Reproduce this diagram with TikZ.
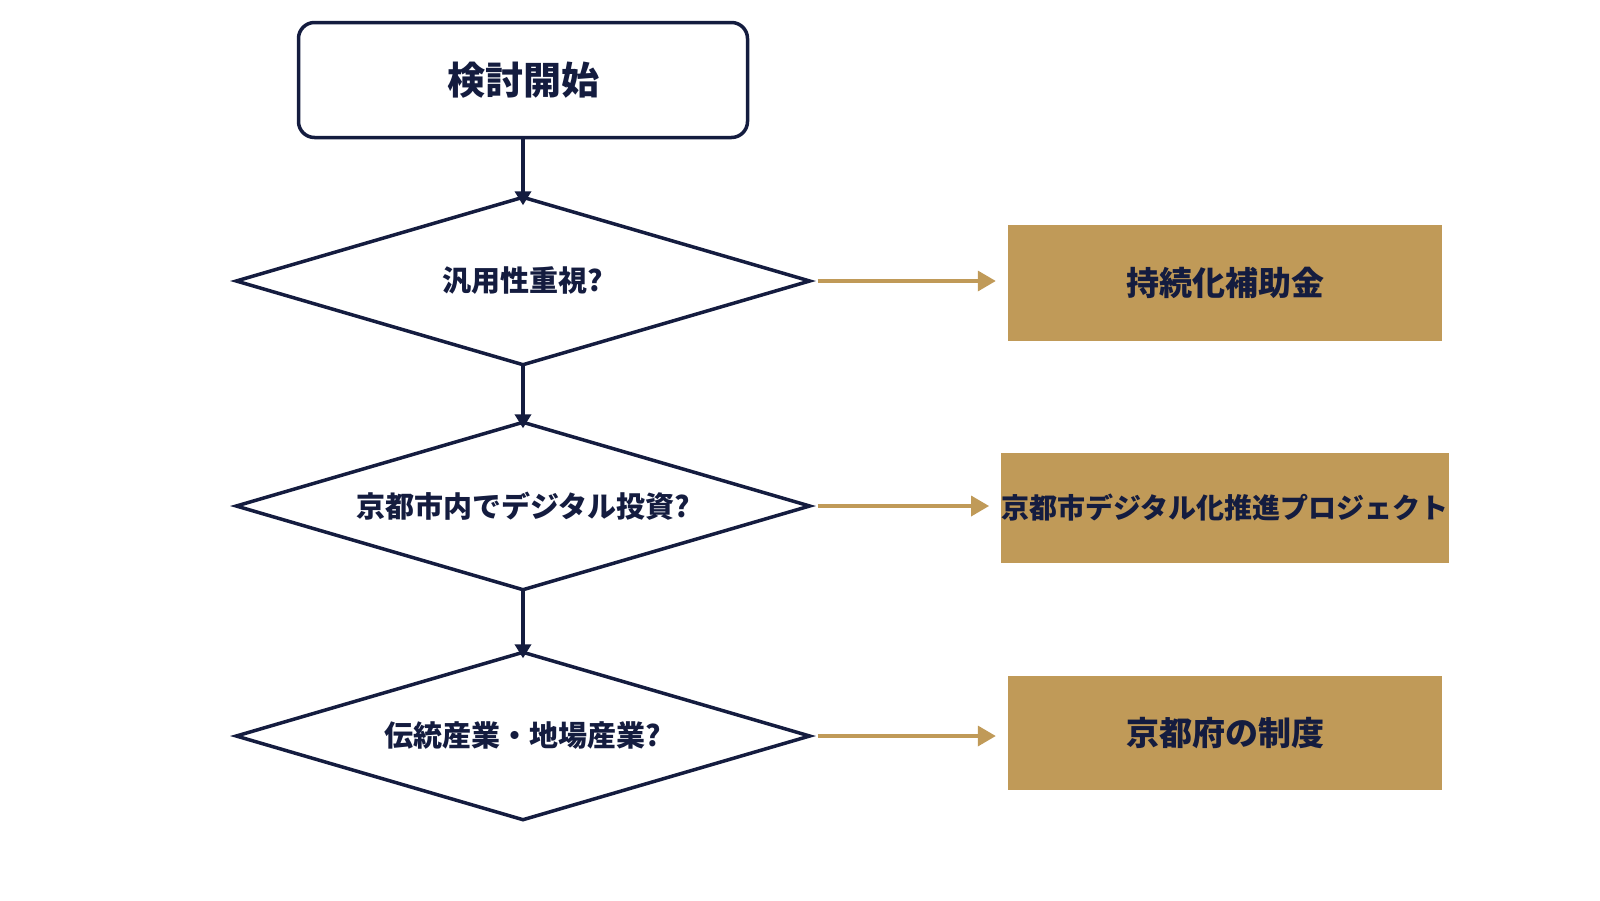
\documentclass[tikz,border=0pt]{standalone}
\usepackage{fontspec}
\newfontfamily\cjk{Noto Sans CJK JP}[BoldFont={Noto Sans CJK JP Black}]
\usetikzlibrary{shapes.geometric,arrows.meta}
\definecolor{navy}{HTML}{141C3F}
\definecolor{gold}{HTML}{C09A58}
\begin{document}
\begin{tikzpicture}[x=1pt,y=-1pt,
  dia/.style={rectangle,minimum width=573pt,minimum height=167pt,inner sep=0pt,font=\cjk\bfseries\fontsize{29}{32}\selectfont,text=navy},
  dline/.style={draw=navy,line width=3.5pt,line join=miter},
  res/.style={fill=gold,minimum width=434pt,inner sep=0pt,font=\cjk\bfseries\fontsize{33}{36}\selectfont,text=navy},
  na/.style={-{Triangle[length=14pt,width=16pt]},draw=navy,line width=3.5pt},
  ga/.style={-{Triangle[length=18pt,width=20pt]},draw=gold,line width=3.5pt}]
\useasboundingbox (0,0) rectangle (1600,900);
\node[draw=navy,line width=3.5pt,rounded corners=16pt,minimum width=449pt,minimum height=115pt,font=\cjk\bfseries\fontsize{38}{42}\selectfont,text=navy] (s) at (523,80) {検討開始};
\node[dia] (d1) at (523,281) {汎用性重視?};
\node[dia] (d2) at (523,506) {京都市内でデジタル投資?};
\node[dia] (d3) at (523,736) {伝統産業・地場産業?};
\foreach \d in {d1,d2,d3}
  \draw[dline] (\d.north) -- (\d.east) -- (\d.south) -- (\d.west) -- cycle;
\node[res,minimum height=116pt] (r1) at (1225,283) {持続化補助金};
\node[res,minimum height=110pt,font=\cjk\bfseries\fontsize{28}{30}\selectfont] (r2) at (1225,508) {京都市デジタル化推進プロジェクト};
\node[res,minimum height=114pt] (r3) at (1225,733) {京都府の制度};
\draw[na] (s) -- ([yshift=-8pt]d1.north);
\draw[na] (d1.south) -- ([yshift=-6pt]d2.north);
\draw[na] (d2.south) -- ([yshift=-6pt]d3.north);
\draw[ga] ([xshift=8pt]d1.east) -- ([xshift=-12pt]r1.west|-d1.east);
\draw[ga] ([xshift=8pt]d2.east) -- ([xshift=-12pt]r2.west|-d2.east);
\draw[ga] ([xshift=8pt]d3.east) -- ([xshift=-12pt]r3.west|-d3.east);
\end{tikzpicture}
\end{document}
